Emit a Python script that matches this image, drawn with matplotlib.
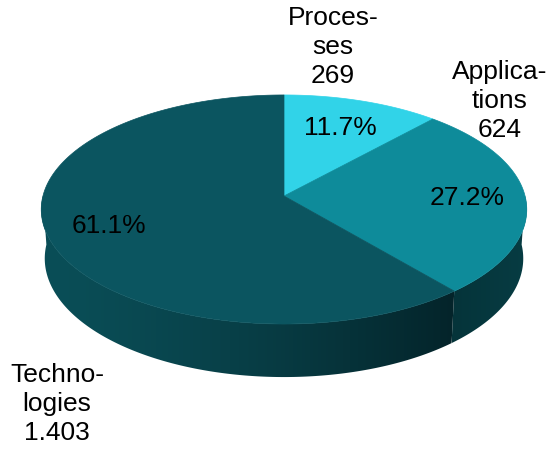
import numpy as np
import matplotlib
matplotlib.use('Agg')
import matplotlib.pyplot as plt
from matplotlib.patches import Polygon
from matplotlib.colors import to_rgb

# data
categories = ['Proces-\nses', 'Applica-\ntions', 'Techno-\nlogies']
values = [269, 624, 1403]
value_labels = ['269', '624', '1.403']

top_colors = ['#31D3E8', '#0E8B9A', '#0B5560']
# side shading (left end, right end) per slice
side_colors = [('#168A99', '#168A99'), ('#05343A', '#073C43'), ('#0A4E57', '#04242A')]

plt.rcParams['font.family'] = ['Liberation Sans', 'DejaVu Sans']

# simple perspective projection of a flat cylinder, in pixel units
CX, CY = 284, 196
F, D = 1808.0, 7.5
phi = np.arcsin(0.4685)
s, c = np.sin(phi), np.cos(phi)
H = 0.232


def proj(theta, z=0.0, r=1.0):
    X = r * np.cos(theta)
    Y = r * np.sin(theta)
    up = Y * s + z * c
    depth = D + Y * c - z * s
    return CX + F * X / depth, CY - F * up / depth


fig = plt.figure(figsize=(5.57, 4.49), dpi=100)
ax = fig.add_axes([0, 0, 1, 1])

total = float(sum(values))
fracs = [v / total for v in values]
starts = []
a = np.pi / 2
for f in fracs:
    starts.append((a, a - 2 * np.pi * f))
    a -= 2 * np.pi * f

# side walls: only the front half (-pi..0) is visible
for i, (a0, a1) in enumerate(starts):
    if i == 2:
        lo_t, hi_t = -np.pi, a0
    else:
        lo_t, hi_t = max(a1, -np.pi), min(a0, 0.0)
    if hi_t <= lo_t:
        continue
    ts = np.linspace(lo_t, hi_t, 200)
    top = [proj(t) for t in ts]
    bot = [proj(t, -H) for t in ts[::-1]]
    poly = Polygon(top + bot, closed=True, facecolor='none', edgecolor='none')
    ax.add_patch(poly)
    xs = [p[0] for p in top + bot]
    ys = [p[1] for p in top + bot]
    lo, hi = min(xs), max(xs)
    u = np.linspace(0, 1, 256)
    if i == 2:
        u = u ** 1.4
    c0, c1 = np.array(to_rgb(side_colors[i][0])), np.array(to_rgb(side_colors[i][1]))
    grad = (c0[None, :] + (c1 - c0)[None, :] * u[:, None])[None, :, :]
    im = ax.imshow(grad, extent=(lo, hi, max(ys) + 1, min(ys) - 1), origin='upper',
                   aspect='auto', interpolation='bilinear')
    im.set_clip_path(poly)

# top face wedges
for i, (a0, a1) in enumerate(starts):
    ts = np.linspace(a0, a1, 200)
    pts = [(CX, CY)] + [proj(t) for t in ts]
    ax.add_patch(Polygon(pts, closed=True, facecolor=top_colors[i],
                         edgecolor=top_colors[i], lw=0.5))

# percentage labels
pct_r = [0.70, 0.76, 0.75]
for i, (a0, a1) in enumerate(starts):
    x, y = proj(0.5 * (a0 + a1), r=pct_r[i])
    ax.text(x, y, '%.1f%%' % (fracs[i] * 100), ha='center', va='center',
            fontsize=19, color='black')

# category labels
label_pos = [(333, 47), (500, 101), (57, 404)]
for i, name in enumerate(categories):
    x, y = label_pos[i]
    ax.text(x, y, name + '\n' + value_labels[i], ha='center', va='center',
            fontsize=19, color='black', linespacing=1.25)

ax.set_xlim(0, 557)
ax.set_ylim(449, 0)
ax.axis('off')

fig.savefig('out.png', dpi=100)
